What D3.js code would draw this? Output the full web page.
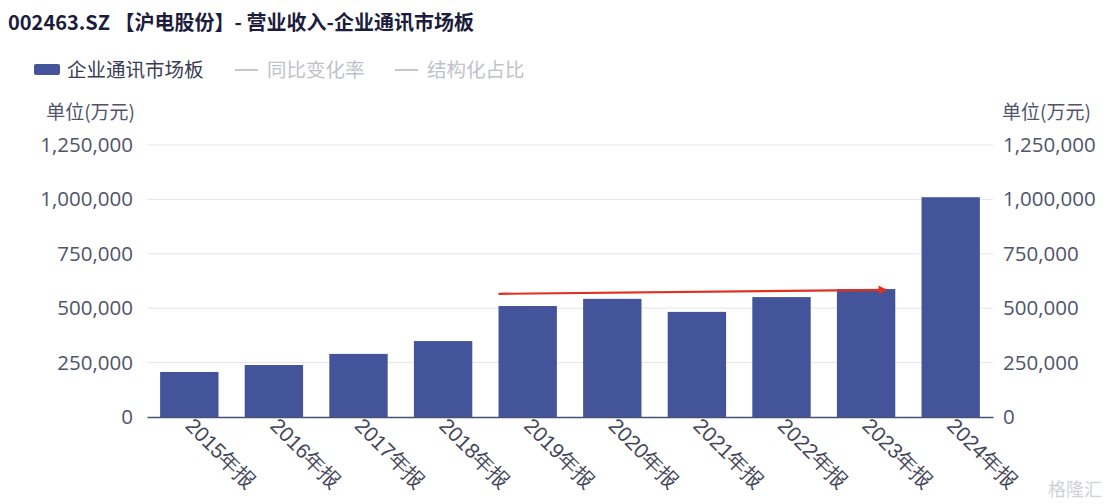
<!DOCTYPE html>
<html><head><meta charset="utf-8">
<script src="https://cdn.jsdelivr.net/npm/d3@7"></script>
<style>
html,body{margin:0;padding:0;background:#fff;}
svg{display:block;font-family:"Noto Sans CJK SC","Noto Sans",sans-serif;}
</style></head>
<body><svg id="c" width="1108" height="504"></svg>
<script>
const categories = ["2015年报","2016年报","2017年报","2018年报","2019年报","2020年报","2021年报","2022年报","2023年报","2024年报"];
const revenue = [207000, 239000, 290000, 349000, 510000, 543000, 483000, 551000, 588000, 1010000];
const yTicks = [0, 250000, 500000, 750000, 1000000, 1250000];
const legendItems = ["企业通讯市场板","同比变化率","结构化占比"];
const titleText = "002463.SZ 【沪电股份】- 营业收入-企业通讯市场板";
const unitText = "单位(万元)";
const arrowFrom = {cat:"2019年报", value:566000};
const arrowTo = {cat:"2023年报", value:584000};

const svg = d3.select("#c");
const W = 1108, H = 504;
const m = {left:147, right:115, top:145, bottom:87};
const x = d3.scaleBand().domain(categories).range([m.left, W - m.right]).paddingInner(0.31).paddingOuter(0.155);
const y = d3.scaleLinear().domain([0, 1250000]).range([H - m.bottom, m.top]);
const fmt = d3.format(",");
const barColor = "#44549a";
const textColor = "#50546a";
const numFont = '"Open Sans","Noto Sans",sans-serif';

// title
svg.append("text").attr("x", 8).attr("y", 30).attr("font-size", 20).attr("font-weight", 600)
  .attr("fill", "#1c1c3c").text(titleText);

// legend
svg.append("rect").attr("x", 34).attr("y", 64).attr("width", 26).attr("height", 11).attr("rx", 2).attr("fill", barColor);
svg.append("text").attr("x", 67).attr("y", 77).attr("font-size", 19.5).attr("fill", "#3a3c52").text(legendItems[0]);
[[235, legendItems[1]], [395, legendItems[2]]].forEach(([lx, t]) => {
  svg.append("line").attr("x1", lx).attr("x2", lx + 23).attr("y1", 70).attr("y2", 70).attr("stroke", "#c4c6cf").attr("stroke-width", 2);
  svg.append("text").attr("x", lx + 32).attr("y", 77).attr("font-size", 19.5).attr("fill", "#c0c2cb").text(t);
});

// unit labels
svg.append("text").attr("x", 135).attr("y", 119).attr("text-anchor", "end").attr("font-size", 19).attr("fill", textColor).text(unitText);
svg.append("text").attr("x", 1002).attr("y", 119).attr("text-anchor", "start").attr("font-size", 19).attr("fill", textColor).text(unitText);

// grid
svg.append("g").selectAll("line").data(yTicks.filter(d => d > 0)).join("line")
  .attr("x1", m.left).attr("x2", W - m.right).attr("y1", d => y(d)).attr("y2", d => y(d))
  .attr("stroke", "#e3e5ec").attr("stroke-width", 1);

// left axis
const yl = svg.append("g").attr("transform", `translate(${m.left},0)`)
  .call(d3.axisLeft(y).tickValues(yTicks).tickFormat(fmt).tickSize(0).tickPadding(14));
yl.select(".domain").remove();
yl.selectAll("text").attr("font-size", 20.5).attr("fill", textColor).style("font-family", numFont);

// right axis
const yr = svg.append("g").attr("transform", `translate(${W - m.right},0)`)
  .call(d3.axisRight(y).tickValues(yTicks).tickFormat(fmt).tickSize(0).tickPadding(10));
yr.select(".domain").remove();
yr.selectAll("text").attr("font-size", 20.5).attr("fill", textColor).style("font-family", numFont);

// bars
svg.append("g").selectAll("rect").data(categories).join("rect")
  .attr("x", d => x(d)).attr("width", x.bandwidth())
  .attr("y", (d, i) => y(revenue[i])).attr("height", (d, i) => y(0) - y(revenue[i]))
  .attr("fill", barColor);

// x axis
const xa = svg.append("g").attr("transform", `translate(0,${y(0)})`)
  .call(d3.axisBottom(x).tickSize(0).tickPadding(0));
xa.select(".domain").attr("stroke", "#4a5070").attr("stroke-width", 1.5);
xa.selectAll("text").attr("font-size", 21).attr("fill", "#44465a")
  .attr("text-anchor", "start").attr("dy", "0")
  .attr("transform", "translate(-5,10) rotate(45)");

// red arrow annotation
const defs = svg.append("defs");
defs.append("marker").attr("id", "ah").attr("viewBox", "0 0 10 10").attr("refX", 9).attr("refY", 5)
  .attr("markerWidth", 5).attr("markerHeight", 4).attr("orient", "auto")
  .append("path").attr("d", "M0,0 L10,5 L0,10 Z").attr("fill", "#e03020");
svg.append("line")
  .attr("x1", x(arrowFrom.cat)).attr("y1", y(arrowFrom.value))
  .attr("x2", x(arrowTo.cat) + x.bandwidth() * 0.85).attr("y2", y(arrowTo.value))
  .attr("stroke", "#e03020").attr("stroke-width", 2.2).attr("marker-end", "url(#ah)");

// watermark
svg.append("text").attr("x", 1102).attr("y", 496).attr("text-anchor", "end").attr("font-size", 18)
  .attr("fill", "#cfd1d7").text("格隆汇");
</script></body></html>
